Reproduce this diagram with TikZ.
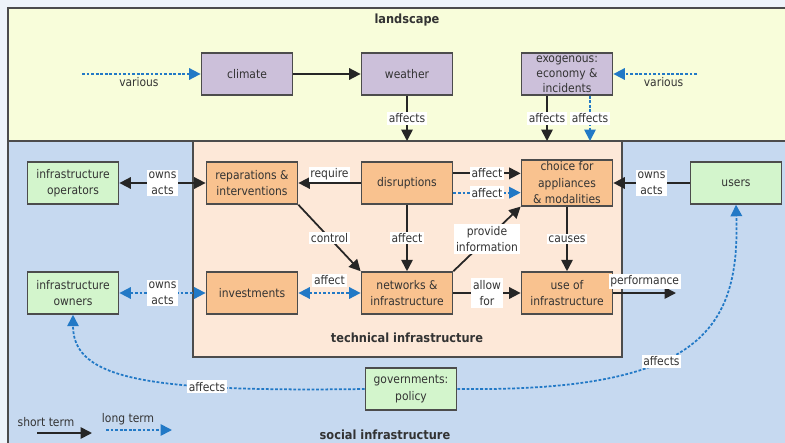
\documentclass[tikz,border=0pt]{standalone}
\usepackage{fontspec}
\setmainfont{DejaVu Sans Condensed}
\usetikzlibrary{arrows.meta}
\definecolor{pagebg}{HTML}{EEF4FA}
\definecolor{landfill}{HTML}{F8FDDA}
\definecolor{socfill}{HTML}{C6D9F0}
\definecolor{techfill}{HTML}{FDE8D8}
\definecolor{landbox}{HTML}{CCC0DA}
\definecolor{techbox}{HTML}{F9C28F}
\definecolor{socbox}{HTML}{D3F5CC}
\definecolor{longblue}{HTML}{2279C6}
\begin{document}
\begin{tikzpicture}[x=0.02cm, y=-0.02cm,
    >={Triangle[length=6.5pt,width=6.5pt]},
    every node/.style={font=\fontsize{6.8}{9.4}\selectfont, text=black!80, align=center},
    box/.style={draw=black!70, line width=0.8pt, minimum width=52pt, minimum height=24pt, inner sep=1pt},
    landnode/.style={box, fill=landbox},
    technode/.style={box, fill=techbox},
    socnode/.style={box, fill=socbox},
    region/.style={draw=black!70, line width=0.8pt},
    title/.style={font=\fontsize{7.2}{9}\selectfont\bfseries},
    short/.style={line width=1pt, black!85, ->},
    long/.style={line width=1pt, longblue, dash pattern=on 1.6pt off 1pt, ->},
    lbl/.style={fill=white, inner sep=1pt},
  ]
  \useasboundingbox (0,0) rectangle (785,443);
  \fill[pagebg] (0,0) rectangle (785,443);

  % regions
  \draw[region, fill=landfill] (8,8) rectangle (800,141);
  \draw[region, fill=socfill] (8,141) rectangle (800,460);
  \draw[region, fill=techfill] (193,141) rectangle (622,357);
  \node[title] (landtitle) at (407,20) {landscape};
  \node[title] (techtitle) at (407,338) {technical infrastructure};
  \node[title] (soctitle) at (385,435) {social infrastructure};

  % landscape
  \node[landnode] (climate) at (247,74) {climate};
  \node[landnode] (weather) at (407,74) {weather};
  \node[landnode, label={[align=center, font=\fontsize{6.8}{8.6}\selectfont, text=black!80]center:exogenous:\\economy \&\\incidents}] (exo) at (567,74) {};
  \coordinate (variousL) at (82,74);
  \coordinate (variousR) at (697,74);
  \coordinate (weatherend) at (407,141);
  \coordinate (exoA) at (547,141);
  \coordinate (exoB) at (590,141);

  % technical infrastructure
  \node[technode] (repar) at (252,183) {reparations \&\\interventions};
  \node[technode] (disr) at (407,183) {disruptions};
  \node[technode] (choice) at (567,183) {\fontsize{6.8}{8.6}\selectfont choice for\\appliances\\\& modalities};
  \node[technode] (invest) at (252,293) {investments};
  \node[technode] (network) at (407,293) {networks \&\\infrastructure};
  \node[technode] (use) at (567,293) {use of\\infrastructure};
  \coordinate (perfend) at (676,293);

  % social infrastructure
  \node[socnode] (operators) at (73,183) {infrastructure\\operators};
  \node[socnode] (owners) at (73,293) {infrastructure\\owners};
  \node[socnode] (users) at (736,183) {users};
  \node[socnode] (gov) at (411,389) {governments:\\policy};

  % legend
  \node (shortlbl) at (46,422) {short term};
  \node (longlbl) at (128,419) {long term};
  \coordinate (shortA) at (37,433);
  \coordinate (shortB) at (92,433);
  \coordinate (longA) at (106,430);
  \coordinate (longB) at (172,430);

  % connectors
  \draw[long] (variousL) -- (climate.west) node[pos=0.48, below=1pt, inner sep=0.5pt] {various};
  \draw[long] (variousR) -- (exo.east) node[pos=0.4, below=1pt, inner sep=0.5pt] {various};
  \draw[short] (climate) -- (weather);
  \draw[short] (weather) -- (weatherend) node[midway, lbl] {affects};
  \draw[short] (exo.south -| exoA) -- (exoA) node[midway, lbl] {affects};
  \draw[long] (exo.south -| exoB) -- (exoB) node[midway, lbl] {affects};

  \draw[short, <->] (operators) -- (repar) node[midway, lbl] {owns\\acts};
  \draw[long, <->] (owners) -- (invest) node[midway, lbl] {owns\\acts};
  \draw[short] (users) -- (choice) node[midway, lbl] {owns\\acts};
  \draw[short] (disr) -- (repar) node[midway, above=0pt, lbl] {require};
  \draw[short] ([yshift=5.5pt]disr.east) -- ([yshift=5.5pt]choice.west) node[midway, lbl] {affect};
  \draw[long] ([yshift=-5.5pt]disr.east) -- ([yshift=-5.5pt]choice.west) node[midway, lbl] {affect};
  \draw[short] (repar.south east) -- (network.north west) node[midway, lbl] {control};
  \draw[short] (disr) -- (network) node[midway, lbl] {affect};
  \draw[short] (network.north east) -- (choice.south west) node[midway, lbl] {provide\\information};
  \draw[short] (choice) -- (use) node[midway, lbl] {causes};
  \draw[short] (network) -- (use) node[midway, lbl] {allow\\for};
  \draw[long, <->] (invest) -- (network) node[midway, above=3pt, lbl] {affect};
  \draw[short] (use) -- (perfend) node[midway, above=2pt, lbl] {performance};

  \draw[long] (gov.west) .. controls (150,392) and (73,380) .. (owners.south) node[pos=0.3, lbl] {affects};
  \draw[long] (gov.east) .. controls (700,392) and (740,330) .. (users.south) node[pos=0.4, lbl] {affects};

  \draw[short] (shortA) -- (shortB);
  \draw[long] (longA) -- (longB);
\end{tikzpicture}
\end{document}
